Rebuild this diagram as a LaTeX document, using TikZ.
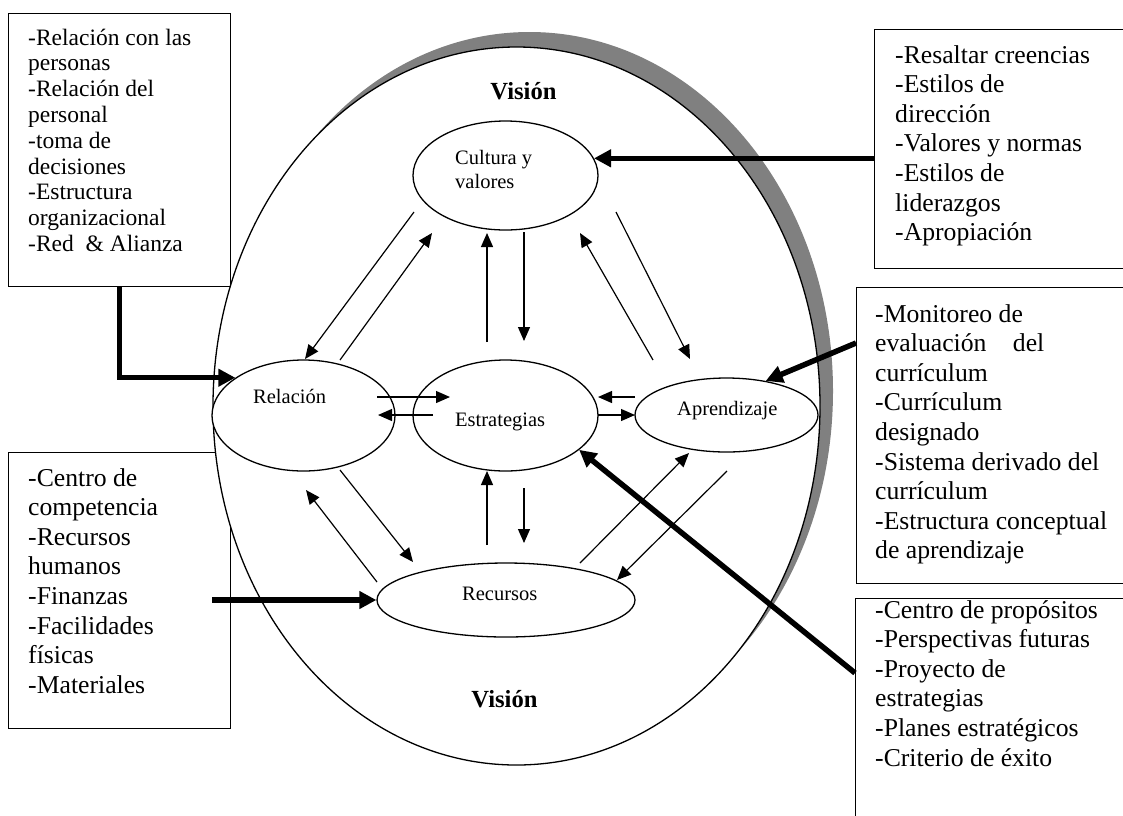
\documentclass[tikz,border=0pt]{standalone}
\usepackage{fontspec}
\setmainfont{Liberation Serif}
\usetikzlibrary{shapes.geometric,arrows.meta}
\definecolor{shadowgray}{HTML}{808080}

\begin{document}
\begin{tikzpicture}[x=1pt,y=-1pt,
  box/.style={draw, line width=1.3pt, fill=white, anchor=north west, inner sep=0pt},
  oval/.style={draw, ellipse, line width=1.3pt, fill=white, inner sep=0pt},
  % multi-line texts are placed by the baseline of their last line
  bigtext/.style={anchor=base west, align=left, inner sep=0pt, font=\fontsize{25.7}{29.6}\selectfont},
  smalltext/.style={anchor=base west, align=left, inner sep=0pt, font=\fontsize{23.5}{25.8}\selectfont},
  ovaltext/.style={anchor=base west, align=left, inner sep=0pt, font=\fontsize{20.5}{24}\selectfont},
  title/.style={anchor=base, inner sep=0pt, font=\fontsize{24.6}{28}\selectfont\bfseries},
  link/.style={line width=1.2pt, -{Triangle[length=14pt,width=12pt]}},
  feed/.style={line width=5.5pt, -{Triangle[length=17pt,width=17pt]}},
]
\clip (0,0) rectangle (1123,815);

% side boxes
\node[box, minimum width=222pt, minimum height=273pt] (tlbox) at (8,13) {};
\node[box, minimum width=222pt, minimum height=276pt] (blbox) at (8,452) {};
\node[box, minimum width=260pt, minimum height=239pt] (trbox) at (874,29) {};
\node[box, minimum width=280pt, minimum height=296pt] (mrbox) at (856,287) {};
\node[box, minimum width=280pt, minimum height=240pt] (brbox) at (855,598) {};

% outer vision ellipse with its shadow
\node[ellipse, fill=shadowgray, inner sep=0pt, minimum width=607pt, minimum height=718pt] (shadow) at (529.5,391) {};
\node[oval, minimum width=607pt, minimum height=718pt] (vision) at (516.5,406) {};

% box texts
\node[smalltext] (tltext) at (28,251.4) {-Relación con las\\personas\\-Relación del\\personal\\-toma de\\decisiones\\-Estructura\\organizacional\\-Red~~\& Alianza};
\node[bigtext] (bltext) at (28,693.2) {-Centro de\\competencia\\-Recursos\\humanos\\-Finanzas\\-Facilidades\\físicas\\-Materiales};
\node[bigtext] (trtext) at (895,240.6) {-Resaltar creencias\\-Estilos de\\dirección\\-Valores y normas\\-Estilos de\\liderazgos\\-Apropiación};
\node[bigtext] (mrtext) at (875,558.8) {-Monitoreo de\\evaluación\hspace{20pt} del\\currículum\\-Currículum\\designado\\-Sistema derivado del\\currículum\\-Estructura conceptual\\de aprendizaje};
\node[bigtext] (brtext) at (875,766) {-Centro de propósitos\\-Perspectivas futuras\\-Proyecto de\\estrategias\\-Planes estratégicos\\-Criterio de éxito};

% titles
\node[title] (vtop) at (523.5,99) {Visión};
\node[title] (vbottom) at (504.5,707) {Visión};

% inner ellipses
\node[oval, minimum width=185pt, minimum height=109pt] (cult) at (505.5,175.5) {};
\node[oval, minimum width=183pt, minimum height=111pt] (rel) at (303.5,415.5) {};
\node[oval, minimum width=185pt, minimum height=111pt] (estr) at (505.5,415.5) {};
\node[oval, minimum width=183pt, minimum height=74pt] (apr) at (726.5,415) {};
\node[oval, minimum width=258pt, minimum height=74pt] (rec) at (506,600) {};

\node[ovaltext] (cultlbl) at (455,188) {Cultura y\\valores};
\node[ovaltext] (rellbl) at (253,403) {Relación};
\node[ovaltext] (estrlbl) at (455,426) {Estrategias};
\node[ovaltext] (aprlbl) at (677,415) {Aprendizaje};
\node[ovaltext] (reclbl) at (462,600) {Recursos};

% ends of the thin arrows between the inner ellipses
\coordinate (cr-s) at (414,212);  \coordinate (cr-e) at (305,359);
\coordinate (rc-s) at (340,360);  \coordinate (rc-e) at (432,233);
\coordinate (ec-s) at (487,342);  \coordinate (ec-e) at (487,233);
\coordinate (ce-s) at (524,232);  \coordinate (ce-e) at (524,341);
\coordinate (ac-s) at (653,360);  \coordinate (ac-e) at (580,233);
\coordinate (ca-s) at (616,212);  \coordinate (ca-e) at (690,359);
\coordinate (re-s) at (377,397);  \coordinate (re-e) at (450,397);
\coordinate (er-s) at (433,415);  \coordinate (er-e) at (378,415);
\coordinate (ae-s) at (635,397);  \coordinate (ae-e) at (598,397);
\coordinate (ea-s) at (598,415);  \coordinate (ea-e) at (635,415);
\coordinate (se-s) at (487,545);  \coordinate (se-e) at (487,471);
\coordinate (es-s) at (524,488);  \coordinate (es-e) at (524,543);
\coordinate (rs-s) at (340,470);  \coordinate (rs-e) at (413,562);
\coordinate (sr-s) at (377,582);  \coordinate (sr-e) at (306,490);
\coordinate (sa-s) at (580,563);  \coordinate (sa-e) at (689,453);
\coordinate (as-s) at (727,471);  \coordinate (as-e) at (617,580);

\foreach \p in {cr,rc,ec,ce,ac,ca,re,er,ae,ea,se,es,rs,sr,sa,as}
  \draw[link] (\p-s) -- (\p-e);

% heavy arrows from the side boxes
\coordinate (blout) at (212,600);
\draw[feed] (tlbox.south) |- (rel.151);
\draw[feed] (cult.11 -| trbox.west) -- (cult.11);
\draw[feed] ([yshift=-56pt]mrbox.north west) -- (apr.41);
\draw[feed] ([yshift=-75pt]brbox.north west) -- (estr.-25);
\draw[feed] (blout) -- (rec.west);
\end{tikzpicture}
\end{document}
